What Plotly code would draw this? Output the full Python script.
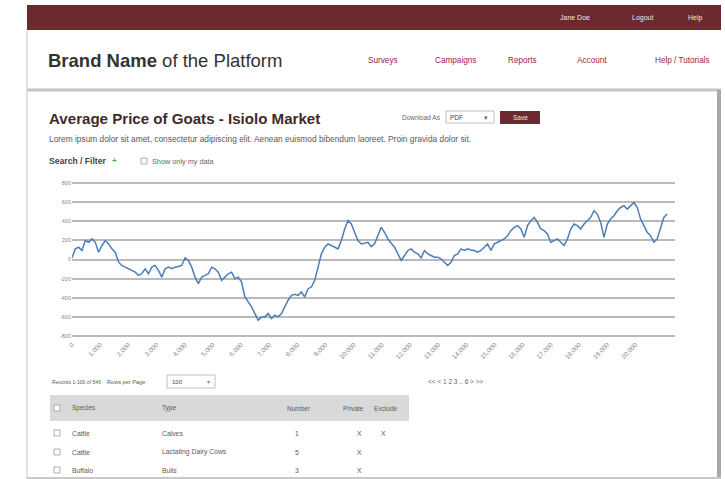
import plotly.graph_objects as go

W, H = 725, 479

# ---------------- data ----------------
days = [0, 118, 236, 354, 472, 590, 708, 826, 944, 1062,
        1180, 1298, 1416, 1534, 1652, 1770, 1888, 2006, 2124, 2242,
        2360, 2478, 2596, 2714, 2832, 2950, 3068, 3186, 3304, 3422,
        3540, 3658, 3776, 3894, 4012, 4130, 4248, 4366, 4484, 4602,
        4720, 4838, 4956, 5074, 5192, 5310, 5428, 5546, 5664, 5782,
        5900, 6018, 6136, 6254, 6372, 6490, 6608, 6726, 6844, 6962,
        7080, 7198, 7316, 7434, 7552, 7670, 7788, 7906, 8024, 8142,
        8260, 8378, 8496, 8614, 8732, 8850, 8968, 9086, 9204, 9322,
        9440, 9558, 9676, 9794, 9912, 10030, 10148, 10266, 10384, 10502,
        10620, 10738, 10856, 10974, 11092, 11210, 11328, 11446, 11564, 11682,
        11800, 11918, 12036, 12154, 12272, 12390, 12508, 12626, 12744, 12862,
        12980, 13098, 13216, 13334, 13452, 13570, 13688, 13806, 13924, 14042,
        14160, 14278, 14396, 14514, 14632, 14750, 14868, 14986, 15104, 15222,
        15340, 15458, 15576, 15694, 15812, 15930, 16048, 16166, 16284, 16402,
        16520, 16638, 16756, 16874, 16992, 17110, 17228, 17346, 17464, 17582,
        17700, 17818, 17936, 18054, 18172, 18290, 18408, 18526, 18644, 18762,
        18880, 18998, 19116, 19234, 19352, 19470, 19588, 19706, 19824, 19942,
        20060, 20178, 20296, 20414, 20532, 20650, 20768, 20886, 21004, 21122]

price = [17, 111, 128, 94, 198, 180, 215, 180, 76, 146,
         198, 163, 111, 76, -28, -62, -80, -97, -114, -132,
         -166, -149, -97, -149, -80, -62, -114, -184, -97, -80,
         -97, -80, -73, -62, 17, -10, -80, -184, -253, -184,
         -166, -149, -80, -97, -132, -218, -184, -149, -132, -201,
         -184, -236, -392, -444, -496, -565, -634, -600, -600, -565,
         -617, -582, -600, -565, -496, -426, -375, -364, -375, -340,
         -392, -305, -288, -218, -80, 59, 128, 163, 146, 128,
         111, 198, 319, 406, 371, 284, 198, 163, 170, 180,
         135, 163, 250, 336, 284, 215, 170, 128, 59, -10,
         42, 94, 111, 76, 59, 17, 94, 59, 42, 24,
         24, 7, -28, -62, -28, 42, 59, 111, 94, 111,
         100, 94, 76, 94, 128, 163, 94, 163, 180, 198,
         215, 250, 302, 336, 354, 319, 232, 354, 406, 440,
         388, 319, 302, 267, 180, 198, 215, 180, 146, 215,
         319, 371, 354, 319, 371, 406, 440, 510, 475, 388,
         232, 371, 423, 458, 510, 544, 562, 527, 562, 596,
         544, 423, 354, 284, 250, 180, 215, 336, 440, 475]

x_tick_values = [0, 1000, 2000, 3000, 4000, 5000, 6000, 7000, 8000, 9000, 10000,
                 11000, 12000, 13000, 14000, 15000, 16000, 17000, 18000, 19000, 20000]
x_tick_labels = ["0", "1,000", "2,000", "3,000", "4,000", "5,000", "6,000", "7,000",
                 "8,000", "9,000", "10,000", "11,000", "12,000", "13,000", "14,000",
                 "15,000", "16,000", "17,000", "18,000", "19,000", "20,000"]
y_tick_values = [-800, -600, -400, -200, 0, 200, 400, 600, 800]
y_tick_labels = ["-800", "-600", "-400", "-200", "0", "200", "400", "600", "800"]

user_links = ["Jane Doe", "Logout", "Help"]
nav_links = ["Surveys", "Campaigns", "Reports", "Account", "Help / Tutorials"]
table_columns = ["Species", "Type", "Number", "Private", "Exclude"]
species = ["Cattle", "Cattle", "Buffalo"]
animal_types = ["Calves", "Lactating Dairy Cows", "Bulls"]
numbers = ["1", "5", "3"]
private_flags = ["X", "X", "X"]
exclude_flags = ["X", "", ""]

# ---------------- styles / layout helpers ----------------
FONT = "Liberation Sans, Arial, sans-serif"
MAROON = "#6a2a2e"
LINK = "#9b1d45"
TXT = "#5a5a5a"


def px(x):
    return x / W


def py(y):
    return 1 - y / H


shapes = []
annotations = []


def rect(x0, y0, x1, y1, fill=None, line=None, lw=1):
    shapes.append(dict(type="rect", xref="paper", yref="paper",
                       x0=px(x0), x1=px(x1), y0=py(y1), y1=py(y0),
                       fillcolor=fill if fill else "rgba(0,0,0,0)",
                       line=dict(color=line if line else "rgba(0,0,0,0)", width=lw if line else 0),
                       layer="below"))


def hline(x0, x1, y, color, lw):
    shapes.append(dict(type="line", xref="paper", yref="paper",
                       x0=px(x0), x1=px(x1), y0=py(y), y1=py(y),
                       line=dict(color=color, width=lw), layer="below"))


def vline(x, y0, y1, color, lw):
    shapes.append(dict(type="line", xref="paper", yref="paper",
                       x0=px(x), x1=px(x), y0=py(y0), y1=py(y1),
                       line=dict(color=color, width=lw), layer="below"))


def text(x, y, s, size=7, color=TXT, anchor="left"):
    annotations.append(dict(xref="paper", yref="paper", x=px(x), y=py(y), text=s,
                            showarrow=False, xanchor=anchor, yanchor="middle",
                            borderpad=0,
                            font=dict(family=FONT, size=size, color=color)))


def checkbox(x, y):
    rect(x - 3, y - 3, x + 3, y + 3, fill="white", line="#999999", lw=0.8)


# page frame
rect(27, 5, 721, 30, fill=MAROON)
hline(27, 721, 90, "#c4c4c4", 3)
vline(719, 90, 479, "#a8a8a8", 4)
vline(27, 30, 479, "#d0d0d0", 1.2)
hline(27, 721, 478, "#c8c8c8", 2)

# top user bar
for label, cx in zip(user_links, [575, 642, 695]):
    text(cx, 17.5, label, size=7, color="#f0e6e6", anchor="center")

# brand + nav
text(47, 61, "<b>Brand Name</b> of the Platform", size=18.5, color="#333333")
for label, cx in zip(nav_links, [383, 455, 522, 592, 682]):
    text(cx, 60, label, size=8.2, color=LINK, anchor="center")

# chart heading row
text(48, 118, "<b>Average Price of Goats - Isiolo Market</b>", size=15.1, color="#3f2a2c")
text(442, 117, "Download As", size=6.5, color="#666666", anchor="right")
rect(446, 111, 494, 123, fill="white", line="#b0b0b0", lw=0.8)
text(449, 117, "PDF", size=6.5, color="#444444")
text(486, 117, "▾", size=6.5, color="#666666", anchor="center")
rect(500, 111, 540, 124, fill=MAROON)
text(520, 117.5, "Save", size=6.5, color="#f2e8e8", anchor="center")

text(48, 139, "Lorem ipsum dolor sit amet, consectetur adipiscing elit. Aenean euismod bibendum laoreet. "
              "Proin gravida dolor sit.", size=8.35, color=TXT)
text(48, 161, "<b>Search / Filter</b>", size=8.6, color="#444444")
text(111, 160.5, "<b>+</b>", size=8, color="#3cb44b")
checkbox(144, 161)
text(151, 161, "Show only my data", size=7.3, color="#666666")

# records row
text(51, 382, "Records 1-100 of 546", size=5.1, color=TXT)
text(106, 382, "Rows per Page", size=5.6, color=TXT)
rect(167, 375, 215, 388, fill="white", line="#b0b0b0", lw=0.8)
text(171, 382, "100", size=6, color="#444444")
text(208, 382, "▾", size=6, color="#888888", anchor="center")
text(455, 381, "&lt;&lt; &lt; 1 2 3 .. 6 &gt; &gt;&gt;", size=6.5, color="#666666", anchor="center")

# table
rect(50, 395, 409, 421, fill="#d9d9d9")
checkbox(57, 408)
col_x = [71, 161, 286, 342, 373]
for label, cx in zip(table_columns, col_x):
    text(cx, 408, label, size=6.5, color=TXT)
row_y = [433, 452, 470]
for i, ry in enumerate(row_y):
    checkbox(57, ry)
    text(71, ry, species[i], size=6.8, color=TXT)
    text(161, ry, animal_types[i], size=6.8, color=TXT)
    text(297, ry, numbers[i], size=6.8, color=TXT, anchor="center")
    text(359, ry, private_flags[i], size=6.8, color=TXT, anchor="center")
    if exclude_flags[i]:
        text(383, ry, exclude_flags[i], size=6.8, color=TXT, anchor="center")

# ---------------- figure ----------------
fig = go.Figure()
fig.add_trace(go.Scatter(x=days, y=price, mode="lines",
                         line=dict(color="#4d7db6", width=1.5), hoverinfo="skip"))

# y range padded slightly so the +-800 gridlines are drawn; domain chosen so
# 800 sits at y=183 px and -800 at y=336 px
fig.update_layout(
    width=W, height=H,
    margin=dict(l=0, r=0, t=0, b=0, pad=0, autoexpand=False),
    paper_bgcolor="white", plot_bgcolor="white",
    showlegend=False,
    font=dict(family=FONT),
    xaxis=dict(domain=[px(72), px(675)], range=[0, 21400],
               tickvals=x_tick_values, ticktext=x_tick_labels, tickangle=-45,
               showgrid=False, zeroline=False, showline=False, ticks="",
               automargin=False,
               tickfont=dict(size=6.5, color="#8a8a8a")),
    yaxis=dict(domain=[py(338.9), py(180.1)], range=[-830, 830],
               tickvals=y_tick_values, ticktext=y_tick_labels,
               showgrid=True, gridcolor="#bababa", gridwidth=1.6,
               zeroline=False, showline=False, ticks="",
               automargin=False,
               tickfont=dict(size=5.5, color="#888888")),
    shapes=shapes,
    annotations=annotations,
)

fig.write_html("out.html")
